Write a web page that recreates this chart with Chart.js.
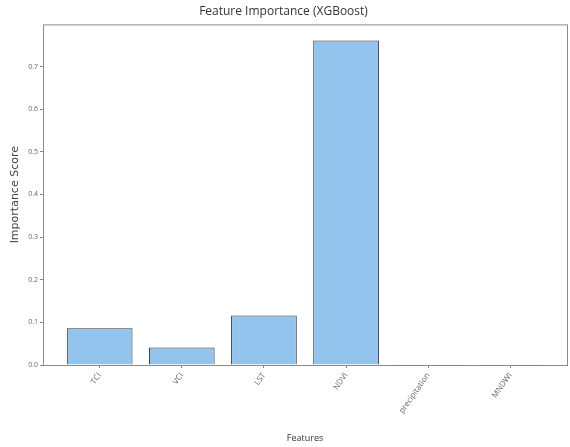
<!DOCTYPE html>
<html>
<head>
<meta charset="utf-8">
<script src="https://cdn.jsdelivr.net/npm/chart.js@4/dist/chart.umd.min.js"></script>
<style>
  body { margin: 0; background: #fff; }
  #wrap { width: 570px; height: 447px; }
</style>
</head>
<body>
<div id="wrap"><canvas id="myChart"></canvas></div>
<script>
const features = ["TCI", "VCI", "LST", "NDVI", "precipitation", "MNDWI"];
const importance = [0.086, 0.041, 0.116, 0.761, 0.002, 0.002];
const yTicks = [0.0, 0.1, 0.2, 0.3, 0.4, 0.5, 0.6, 0.7];

// full box around the plot, like matplotlib spines
const frame = {
  id: 'frame',
  afterDraw(chart) {
    const a = chart.chartArea;
    const ctx = chart.ctx;
    ctx.save();
    ctx.strokeStyle = '#8a8a8a';
    ctx.lineWidth = 1;
    ctx.strokeRect(a.left + 0.5, a.top + 0.5, a.right - a.left, a.bottom - a.top);
    ctx.restore();
  }
};

new Chart("myChart", {
  type: "bar",
  data: {
    datasets: [{
      label: 'Importance',
      data: importance.map((v, i) => ({ x: i, y: v })),
      backgroundColor: '#92c4ed',
      borderColor: '#333',
      borderWidth: 1,
      barPercentage: 0.8,
      categoryPercentage: 1.0
    }]
  },
  options: {
    responsive: true,
    maintainAspectRatio: false,
    animation: false,
    layout: { padding: { left: 0, right: 3, top: 0, bottom: 0 } },
    plugins: {
      legend: { display: false },
      tooltip: { enabled: false },
      title: {
        display: true,
        text: 'Feature Importance (XGBoost)',
        color: '#333',
        font: { family: 'Open Sans', size: 12, weight: 'normal' },
        padding: { top: 4, bottom: 6 }
      }
    },
    scales: {
      x: {
        type: 'linear',
        offset: false,
        min: -0.69,
        max: 5.69,
        grid: { display: true, offset: false, drawOnChartArea: false, tickLength: 3, color: '#888' },
        border: { display: false },
        afterBuildTicks: (s) => { s.ticks = features.map((f, i) => ({ value: i })); },
        afterFit: (s) => { s.height = 82; },
        ticks: {
          autoSkip: false,
          minRotation: 55,
          maxRotation: 55,
          padding: 3,
          color: '#666',
          font: { family: 'Open Sans', size: 8 },
          callback: (v) => features[v]
        },
        title: {
          display: true,
          text: 'Features',
          color: '#333',
          font: { family: 'Open Sans', size: 9 },
          padding: { top: 0, bottom: 3 }
        }
      },
      y: {
        min: 0,
        max: 0.799,
        grid: { display: true, drawOnChartArea: false, tickLength: 3, color: '#888' },
        border: { display: false },
        afterBuildTicks: (s) => { s.ticks = yTicks.map(v => ({ value: v })); },
        afterFit: (s) => { s.width = 43; },
        ticks: {
          color: '#666',
          font: { family: 'Open Sans', size: 7 },
          padding: 2,
          callback: (v) => v.toFixed(1)
        },
        title: {
          display: true,
          text: 'Importance Score',
          color: '#444',
          font: { family: 'DejaVu Sans', size: 11 },
          padding: { top: 9, bottom: 0 }
        }
      }
    }
  },
  plugins: [frame]
});
</script>
</body>
</html>
